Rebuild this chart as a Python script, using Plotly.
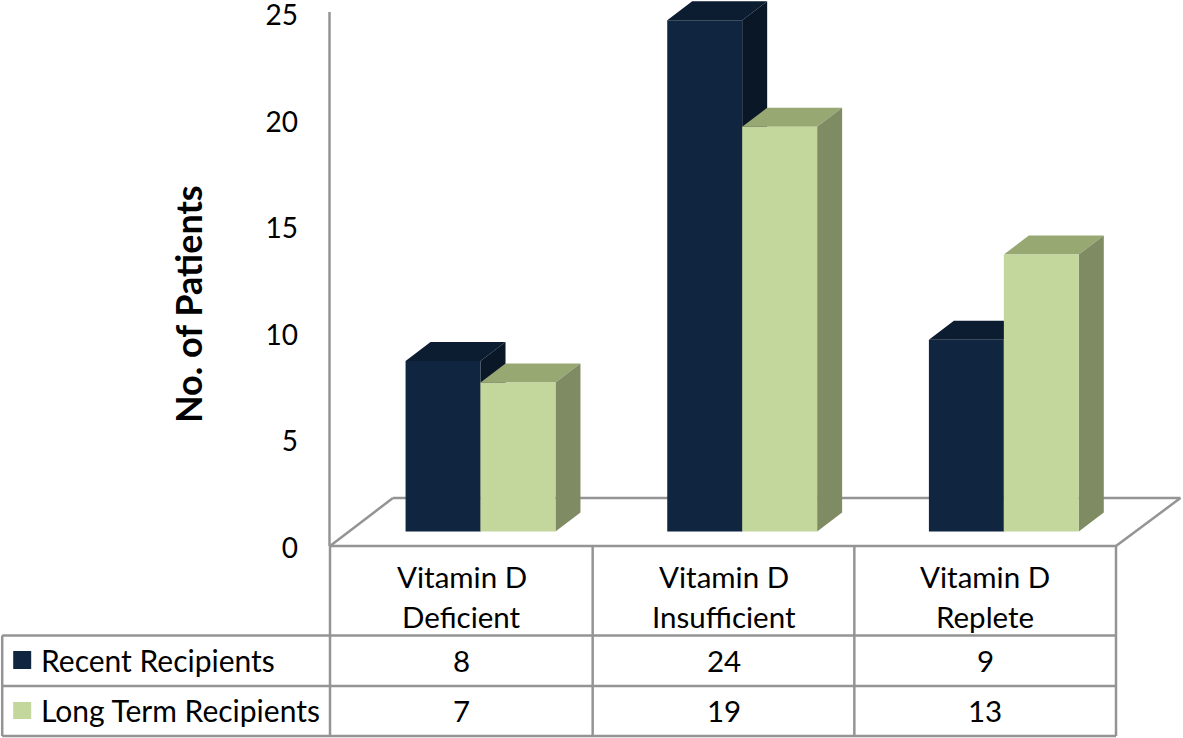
import plotly.graph_objects as go

categories = [["Vitamin D", "Deficient"], ["Vitamin D", "Insufficient"], ["Vitamin D", "Replete"]]
series_names = ["Recent Recipients", "Long Term Recipients"]
recent = [8, 24, 9]
long_term = [7, 19, 13]
y_ticks = [0, 5, 10, 15, 20, 25]

W, H = 1183, 738
L, R, T, B = 331.0, 1116.5, 0.0, 548.0
FLOOR = 546.0
FONT = "Lato"
SIZE = 29.5
NAVY = ("#10253f", "#0c1c31", "#0a1727")
GREEN = ("#c3d69b", "#98a873", "#7f8b63")
GREY = "#949494"

ux = (R - L) / 3
uy = 21.3
bar_w = 75 / ux
shift = 18.7 / ux
dx = 25 / ux
dy = 19 / uy
base = (B - 531.5) / uy
px = lambda x: (x - L) / (R - L)
py = lambda y: (B - y) / (B - T)

fig = go.Figure()


def faces(values, off, col, z, name):
    # off: left edge of the front face relative to the category centre
    tx, ty, sx, sy = [], [], [], []
    for i, v in enumerate(values):
        x0 = i + off
        x1 = x0 + bar_w
        t = v + base
        tx += [x0, x0 + dx, x1 + dx, x1, x0, None]
        ty += [t, t + dy, t + dy, t, t, None]
        sx += [x1, x1 + dx, x1 + dx, x1, x1, None]
        sy += [base, base + dy, t + dy, t, base, None]
    for xs, ys, c in ((tx, ty, col[1]), (sx, sy, col[2])):
        fig.add_trace(go.Scatter(x=xs, y=ys, mode="lines", fill="toself", fillcolor=c,
                                 line=dict(width=0, color=c), cliponaxis=False,
                                 hoverinfo="skip", showlegend=False, zorder=z))
    fig.add_trace(go.Bar(x=[0, 1, 2], y=values, base=base, width=bar_w, offset=off,
                         name=name, marker=dict(color=col[0], line=dict(width=0)),
                         cliponaxis=False, showlegend=False, zorder=z + 1))


faces(recent, shift - bar_w, NAVY, 1, series_names[0])
faces(long_term, shift, GREEN, 3, series_names[1])


def line(x0, y0, x1, y1):
    return dict(type="line", xref="paper", yref="paper", x0=px(x0), y0=py(y0), x1=px(x1), y1=py(y1),
                line=dict(color=GREY, width=2.5), layer="below")


rows_y = [635.5, 686, 736]
cols_x = [L - 1, L + ux, L + 2 * ux, R]
shapes = [line(L - 1.5, 12, L - 1.5, FLOOR), line(L - 1, FLOOR, R, FLOOR), line(L - 1, FLOOR, 393, 498),
          line(393, 498, 1181, 498), line(1181, 498, R, FLOOR)]
shapes += [line(x, FLOOR, x, rows_y[-1]) for x in cols_x]
shapes += [line(2, y, R, y) for y in rows_y]
shapes.append(line(2, rows_y[0], 2, rows_y[-1]))
for (y0, y1), c in zip([(651, 669), (702, 719)], (NAVY[0], GREEN[0])):
    shapes.append(dict(type="rect", xref="paper", yref="paper", x0=px(13), x1=px(31), y0=py(y0), y1=py(y1),
                       fillcolor=c, line=dict(width=0)))


def text(x, y, s, anchor="center", size=SIZE, **kw):
    return dict(x=px(x), y=py(y), xref="paper", yref="paper", text=s, showarrow=False,
                xanchor=anchor, yanchor="middle", font=dict(family=FONT, size=size, color="#000000"), **kw)


ann = []
for i, (l1, l2) in enumerate(categories):
    cx = L + ux * (i + 0.5)
    ann.append(text(cx, 576.5, l1))
    ann.append(text(cx, 616.5, l2))
    ann.append(text(cx, 660, str(recent[i])))
    ann.append(text(cx, 710, str(long_term[i])))
ann.append(text(38.5, 660, series_names[0], "left", size=30))
ann.append(text(38.5, 710, series_names[1], "left", size=30))
ann.append(text(188, 304, "<b>No. of Patients</b>", size=36, textangle=-90))

fig.update_layout(
    width=W, height=H, margin=dict(l=L, r=W - R, t=T, b=H - B, pad=0, autoexpand=False), autosize=False,
    paper_bgcolor="#ffffff", plot_bgcolor="rgba(0,0,0,0)", showlegend=False, barmode="overlay",
    xaxis=dict(range=[-0.5, 2.5], showgrid=False, zeroline=False, showticklabels=False, ticks="",
               fixedrange=True, automargin=False),
    yaxis=dict(range=[0, (B - T) / uy], tickvals=y_ticks, showgrid=False, zeroline=False, ticks="",
               automargin=False, showline=False, ticklabelstandoff=32, ticklabeloverflow="allow",
               fixedrange=True, tickfont=dict(family=FONT, size=28, color="#000000")),
    shapes=shapes, annotations=ann,
)
fig.write_html("out.html", post_script="document.body.style.margin='0';", config={"displayModeBar": False})
